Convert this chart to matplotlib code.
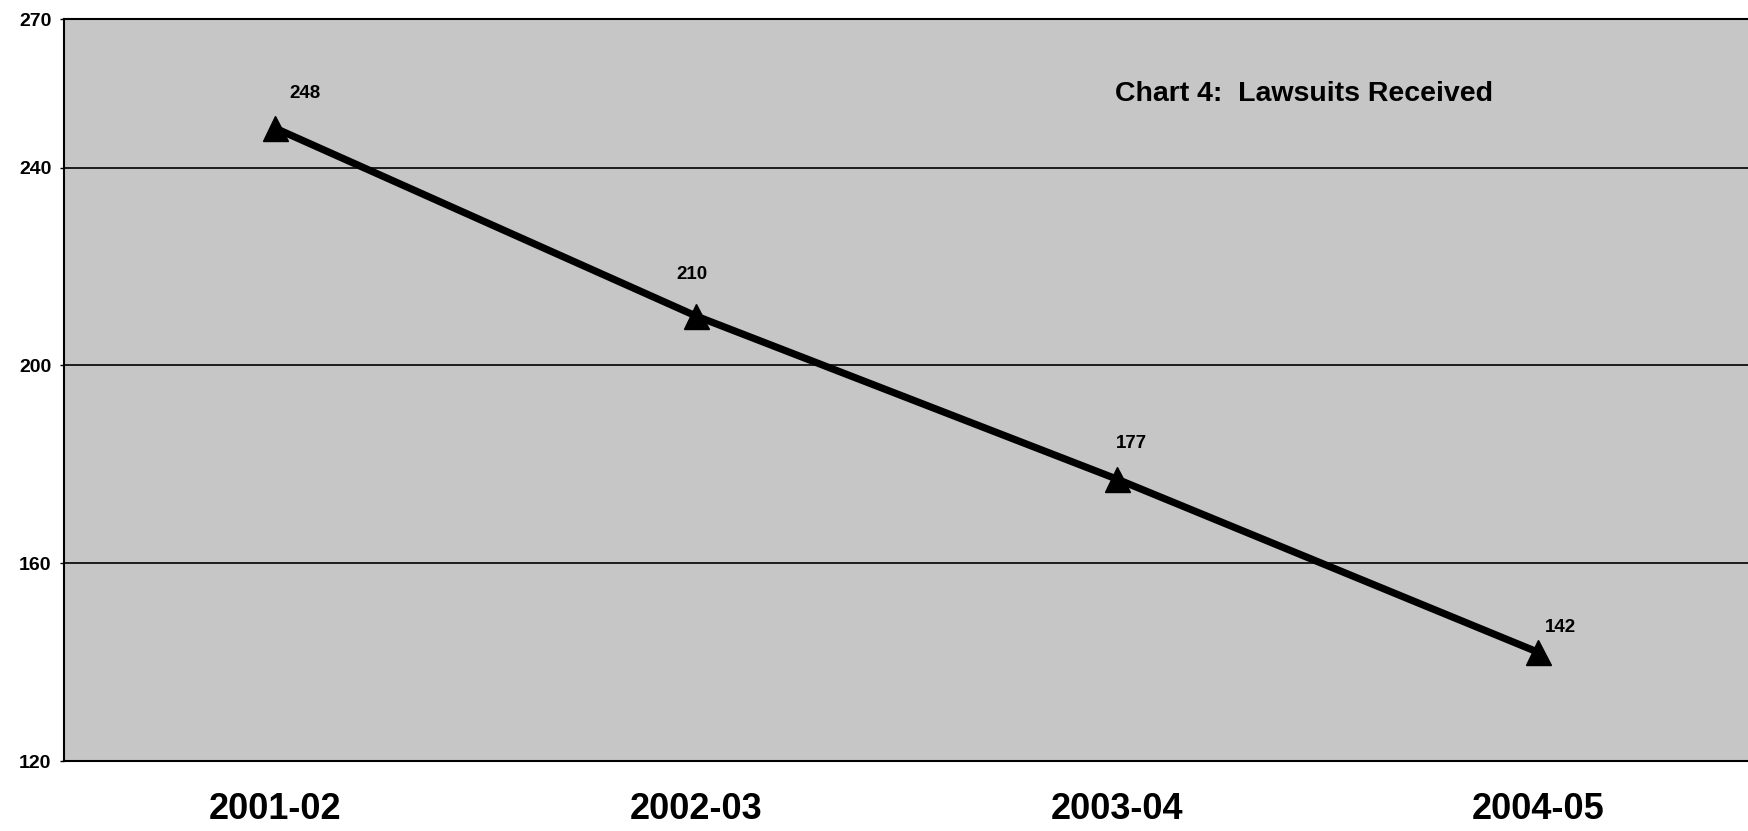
import matplotlib
matplotlib.use("Agg")
import matplotlib.pyplot as plt
from matplotlib import font_manager

years = ["2001-02", "2002-03", "2003-04", "2004-05"]
lawsuits = [248, 210, 177, 142]
y_ticks = [120, 160, 200, 240, 270]
grid_values = [160, 200, 240]
title_text = "Chart 4:  Lawsuits Received"

names = {f.name for f in font_manager.fontManager.ttflist}
fam = [n for n in ["Liberation Sans Narrow", "Liberation Sans", "DejaVu Sans"] if n in names]
plt.rcParams["font.family"] = fam

fig = plt.figure(figsize=(17.49, 8.31), dpi=100)
ax = fig.add_axes([0.0366, 0.084, 0.9634, 0.893])
ax.set_facecolor("#c6c6c6")

x = list(range(len(years)))
for g in grid_values:
    ax.axhline(g, color="black", lw=1.2, zorder=1)

ax.plot(x, lawsuits, color="black", lw=5.2, marker="^", markersize=18, zorder=3)

offsets = [(22, 25), (-3, 30), (10, 26), (16, 18)]
for xi, v, off in zip(x, lawsuits, offsets):
    ax.annotate(str(v), (xi, v), xytext=off, textcoords="offset points",
                ha="center", va="center", fontsize=13.5, fontweight="bold")

ax.text(0.624, 0.899, title_text, transform=ax.transAxes, ha="left", va="center",
        fontsize=20.5, fontweight="bold")

ax.set_xlim(-0.5, 3.5)
ax.set_ylim(120, 270)
ax.set_xticks(x)
ax.set_xticklabels(years, fontsize=26, fontweight="bold")
ax.tick_params(axis="x", length=0, pad=22)
ax.set_yticks(y_ticks)
ax.set_yticklabels([str(t) for t in y_ticks], fontsize=14, fontweight="bold")
ax.tick_params(axis="y", length=3, width=1, pad=6)

for s in ["left", "bottom", "top"]:
    ax.spines[s].set_color("black")
    ax.spines[s].set_linewidth(1.5)
ax.spines["right"].set_visible(False)

fig.savefig("out.png", dpi=100)
